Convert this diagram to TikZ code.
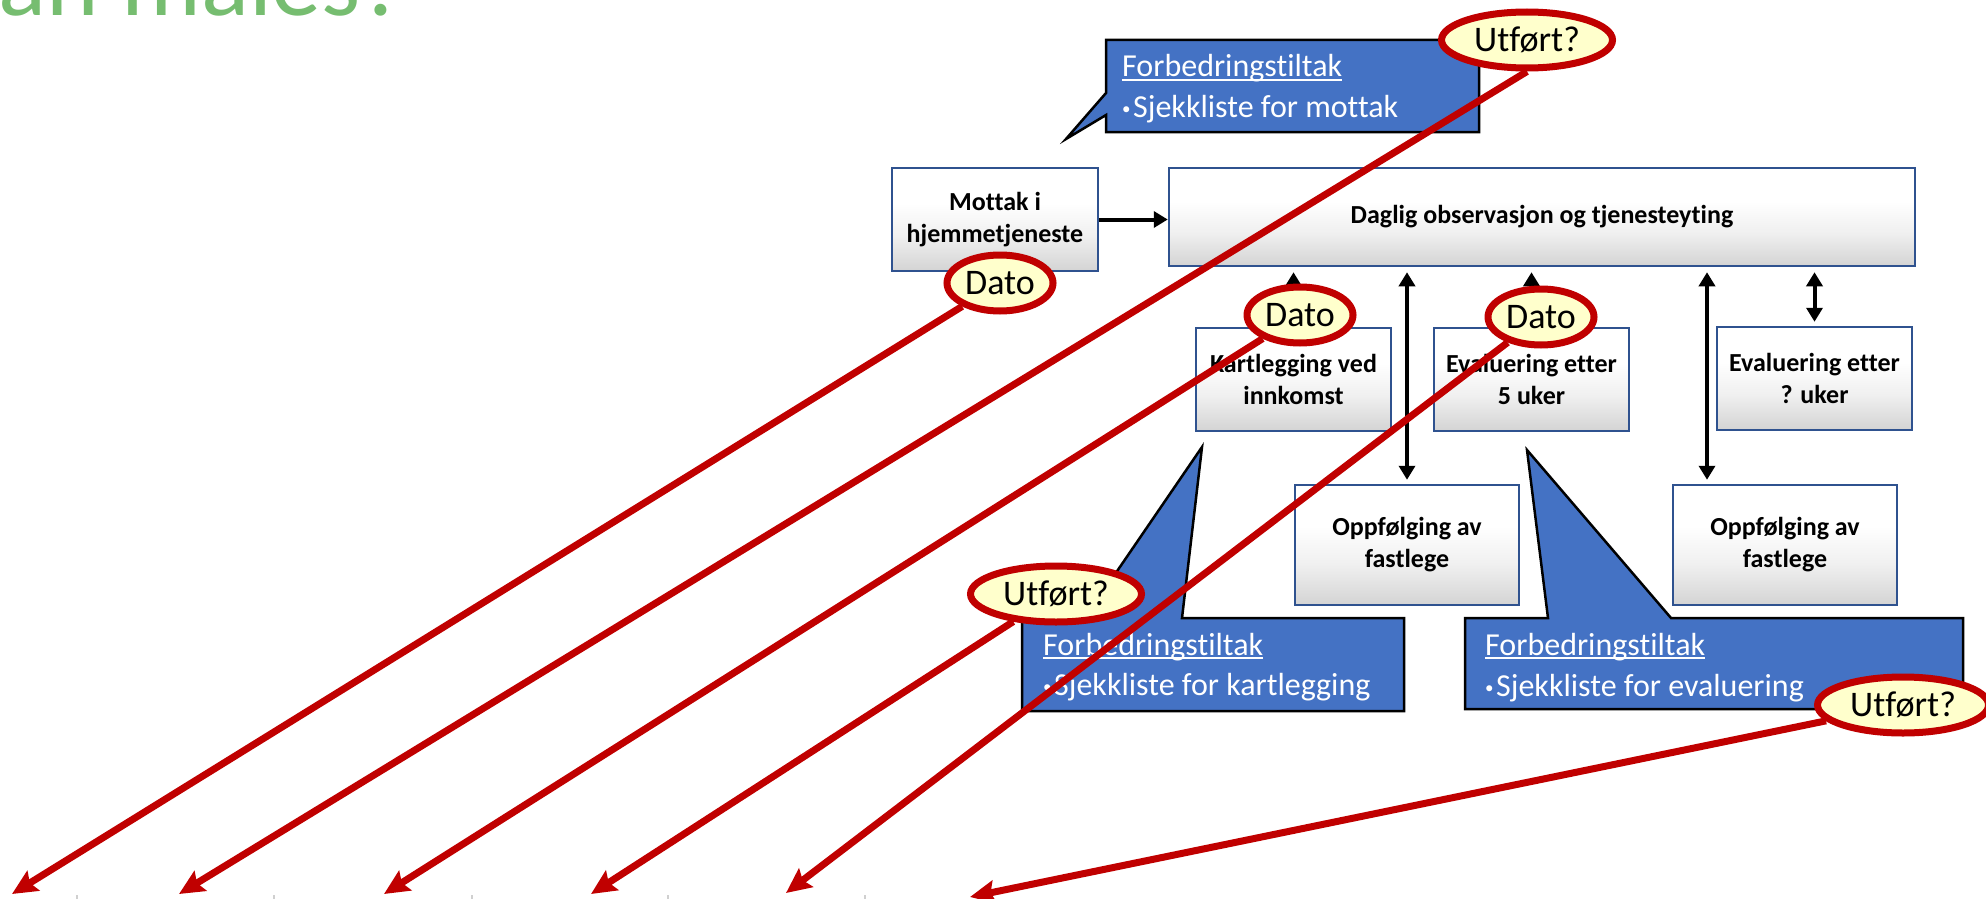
\documentclass[tikz,border=0pt]{standalone}
\usepackage{fontspec}
\setmainfont{Carlito}[Ligatures=NoCommon]
\usetikzlibrary{shapes.geometric,arrows.meta,calc}

\definecolor{boxblue}{HTML}{2F528F}
\definecolor{calloutblue}{HTML}{4472C4}
\definecolor{markred}{HTML}{C00000}
\definecolor{markyellow}{HTML}{FFFFCC}
\definecolor{titlegreen}{HTML}{76BD70}
\definecolor{tickgray}{HTML}{D0D0D0}

% soft white-to-grey fill of the process boxes (path spans 25bp..75bp)
\pgfdeclareverticalshading{boxfade}{100bp}{color(0bp)=(black!17); color(25bp)=(black!17); color(42bp)=(black!6); color(58bp)=(white); color(100bp)=(white)}

% underline drawn as a rule under the text
\newcommand{\ulined}[1]{\setbox0=\hbox{#1}\rlap{\rule[-4pt]{\wd0}{2.2pt}}\box0}
% small list bullet
\newcommand{\listdot}{{\fontsize{17}{17}\selectfont\raisebox{2.5pt}{•}}\kern2.5pt}

% drawing order: boxes and callouts, then pointers, then markers
\pgfdeclarelayer{base}
\pgfdeclarelayer{pointers}
\pgfsetlayers{base,pointers,main}

\tikzset{
  x=1pt, y=-1pt,
  procbox/.style={draw=boxblue, line width=2.5pt, shading=boxfade, align=center,
    inner sep=0pt, font=\fontsize{26}{32}\selectfont\bfseries},
  flow/.style={line width=4pt, -{Triangle[length=14pt,width=16pt]}},
  twoway/.style={line width=4pt, {Triangle[length=14pt,width=16pt]}-{Triangle[length=14pt,width=16pt]},
    shorten <=5pt, shorten >=4pt},
  callout/.style={fill=calloutblue, draw=black, line width=2.5pt, line join=miter},
  callouttext/.style={text=white, inner sep=0pt, anchor=base west, font=\fontsize{32}{38}\selectfont},
  markbase/.style={ellipse, draw=markred, line width=7pt, fill=markyellow, inner sep=0pt,
    minimum height=56pt, font=\fontsize{36}{36}\selectfont},
  datomark/.style={markbase, minimum width=106pt},
  donemark/.style={markbase, minimum width=171pt},
  redline/.style={draw=markred, line width=7pt, -{Stealth[length=25pt,width=23pt,inset=4pt]}},
  heading/.style={text=titlegreen, inner sep=0pt, anchor=base west, font=\fontsize{100}{100}\selectfont},
}

\begin{document}
\begin{tikzpicture}
\useasboundingbox (0,0) rectangle (1986,899);
\clip (0,0) rectangle (1986,899);

\begin{pgfonlayer}{base}
% heading running off the top edge
\node[heading] (title) at (-2,16) {an måles?};

% faint column marks along the bottom edge
\foreach \tx in {77,274,472,668,865}
  \draw[tickgray, line width=1.5pt] (\tx,895) -- (\tx,899);

% process boxes
\node[procbox, minimum width=206pt, minimum height=103pt] (mottak) at (995,219.5) {Mottak i\\hjemmetjeneste};
\node[procbox, minimum width=746pt, minimum height=98pt] (daglig) at (1542,217) {Daglig observasjon og tjenesteyting};
\node[procbox, minimum width=195pt, minimum height=103pt] (kart) at (1293.5,379.5) {Kartlegging ved\\innkomst};
\node[procbox, minimum width=195pt, minimum height=103pt] (eval5) at (1531.5,379.5) {Evaluering etter\\5 uker};
\node[procbox, minimum width=195pt, minimum height=103pt] (evalq) at (1814.5,378.5) {Evaluering etter\\? uker};
\node[procbox, minimum width=224pt, minimum height=120pt] (opp1) at (1407,545) {Oppfølging av\\fastlege};
\node[procbox, minimum width=224pt, minimum height=120pt] (opp2) at (1785,545) {Oppfølging av\\fastlege};

% process flow
\draw[flow] (mottak.east) -- (mottak.east -| daglig.west);
\draw[flow, shorten >=5pt] (kart.north) -- (kart.north |- daglig.south);
\draw[flow, shorten >=5pt] (eval5.north) -- (eval5.north |- daglig.south);
\draw[twoway] (daglig.south -| opp1.north) -- (opp1.north);
\draw[twoway] (daglig.south -| evalq.north) -- (evalq.north);
\coordinate (opp2in) at ([xshift=-78pt]opp2.north);
\draw[twoway] (daglig.south -| opp2in) -- (opp2in);

% improvement callouts
\draw[callout] (1106,40) -- (1479,40) -- (1479,132) -- (1106,132) -- (1106,115)
  -- (1066,139) -- (1106,93) -- cycle;
\node[callouttext] (c1head) at (1122,77) {\ulined{Forbedringstiltak}};
\node[callouttext] (c1item) at (1122,117) {\listdot Sjekkliste for mottak};

\draw[callout] (1022,618) -- (1085,618) -- (1202,447) -- (1182,618) -- (1404,618)
  -- (1404,711) -- (1022,711) -- cycle;
\node[callouttext] (c2head) at (1043,655) {\ulined{Forbedringstiltak}};
\node[callouttext] (c2item) at (1043,695) {\listdot Sjekkliste for kartlegging};

\draw[callout] (1465,618) -- (1548,618) -- (1527,450) -- (1671,618) -- (1963,618)
  -- (1963,709) -- (1465,709) -- cycle;
\node[callouttext] (c3head) at (1485,655) {\ulined{Forbedringstiltak}};
\node[callouttext] (c3item) at (1485,696) {\listdot Sjekkliste for evaluering};
\end{pgfonlayer}

% markers
\node[datomark] (dato1) at (1000,283) {Dato};
\node[datomark] (dato2) at (1300,315) {Dato};
\node[datomark] (dato3) at (1541,317) {Dato};
\node[donemark] (utf1) at (1527,40) {Utført?};
\node[donemark] (utf2) at (1056,594) {Utført?};
\node[donemark] (utf3) at (1903,705) {Utført?};

% pointer ends along the bottom edge
\coordinate (t1) at (12,894);
\coordinate (t2) at (179,894);
\coordinate (t3) at (384,894);
\coordinate (t4) at (591,894);
\coordinate (t5) at (786,893);
\coordinate (t6) at (970,897);

\begin{pgfonlayer}{pointers}
\draw[redline] (dato1) -- (t1);
\draw[redline] (utf1.south) -- (t2);
\draw[redline] (dato2) -- (t3);
\draw[redline] (utf2) -- (t4);
\draw[redline] (dato3) -- (t5);
\draw[redline] (utf3) -- (t6);
\end{pgfonlayer}
\end{tikzpicture}
\end{document}
